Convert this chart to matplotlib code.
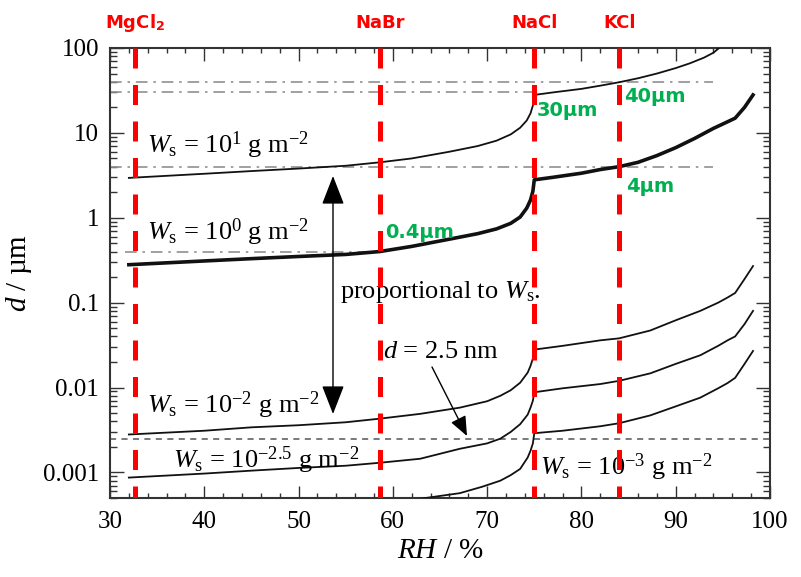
import matplotlib
matplotlib.use('Agg')
import matplotlib.pyplot as plt
from matplotlib.ticker import LogLocator, MultipleLocator, FixedLocator, FixedFormatter, NullFormatter

plt.rcParams['font.family'] = ['Liberation Serif', 'DejaVu Serif']
plt.rcParams['mathtext.fontset'] = 'custom'
plt.rcParams['mathtext.rm'] = 'Liberation Serif'
plt.rcParams['mathtext.it'] = 'Liberation Serif:italic'
plt.rcParams['mathtext.bf'] = 'DejaVu Sans:bold'

# ---------------- data ----------------
# W_s = 10^1 g m^-2
rh_w1 = [32, 40, 45, 50, 55, 58.6, 62, 66, 69, 71, 72.5, 73.5, 74.2, 74.6, 74.85, 75.0,
         77, 80, 82, 84, 86, 88, 90, 91.5, 93, 94, 94.6]
d_w1 = [2.95, 3.3, 3.55, 3.8, 4.1, 4.5, 5.0, 6.0, 7.0, 8.1, 9.6, 11.5, 14.0, 17.0, 21.0, 28,
        30, 33, 36, 39.5, 44, 50, 58, 66, 77, 88, 100]
# W_s = 10^0 g m^-2 (thick)
rh_w0 = [32, 40, 45, 50, 55, 58.6, 62, 66, 69, 71, 72.5, 73.5, 74.2, 74.6, 74.85, 75.0,
         77, 80, 82, 84, 86, 88, 90, 92, 94, 95.3, 96.3, 97.3, 98.2]
d_w0 = [0.28, 0.31, 0.33, 0.35, 0.37, 0.40, 0.46, 0.56, 0.65, 0.74, 0.86, 1.02, 1.3, 1.62, 2.05, 2.8,
        3.0, 3.35, 3.7, 4.0, 4.5, 5.4, 6.7, 8.6, 11.3, 13.2, 14.9, 20, 28]
# W_s = 10^-2 g m^-2
rh_w2 = [32, 40, 45, 50, 55, 58.6, 62.9, 67.1, 70, 71.4, 72.5, 73.5, 74.3, 74.6, 74.85, 75.0,
         78, 82, 84, 87.3, 90, 92.6, 94.5, 95.5, 96.3, 97.3, 98.2]
d_w2 = [0.0028, 0.0031, 0.0034, 0.0036, 0.0039, 0.0043, 0.0049, 0.0058, 0.0069, 0.0080, 0.0093, 0.0114, 0.015, 0.018, 0.022, 0.028,
        0.031, 0.036, 0.038, 0.047, 0.062, 0.080, 0.10, 0.115, 0.13, 0.19, 0.27]
# W_s = 10^-2.5 g m^-2
rh_w25 = [32, 40, 45, 50, 55, 58.6, 62.9, 67.1, 70, 71.4, 72.5, 73.5, 74.3, 74.6, 74.85, 75.0,
          78, 82, 84, 87.3, 90, 92.6, 94.5, 95.5, 96.3, 97.3, 98.2]
d_w25 = [0.00087, 0.00097, 0.00105, 0.00113, 0.0012, 0.0013, 0.00145, 0.0019, 0.0022, 0.0025, 0.0030, 0.0037, 0.0048, 0.0058, 0.0070, 0.0088,
         0.0098, 0.011, 0.012, 0.0147, 0.019, 0.024, 0.031, 0.036, 0.040, 0.056, 0.080]
# W_s = 10^-3 g m^-2
rh_w3 = [32, 45, 58.6, 62.9, 67.1, 69.5, 71.4, 72.5, 73.5, 74.3, 74.6, 74.85, 75.0,
         78, 82, 84, 87.3, 90, 92.6, 94.5, 95.5, 96.3, 97.3, 98.2]
d_w3 = [0.00028, 0.00034, 0.00043, 0.00049, 0.00057, 0.00068, 0.00080, 0.00093, 0.0011, 0.0015, 0.0018, 0.0022, 0.0029,
        0.0031, 0.0035, 0.0038, 0.0047, 0.0060, 0.0076, 0.0098, 0.0113, 0.013, 0.019, 0.027]

# deliquescence RH of salts
salt_names = ['MgCl', 'NaBr', 'NaCl', 'KCl']
salt_drh = [32.7, 58.6, 75.0, 84.0]

# reference thickness lines (µm) and their RH extents
ref_d = [40, 30, 4, 0.4]
ref_rh_start = [30, 30, 30, 31.6]
ref_rh_end = [94, 75, 94, 58.6]
ref_labels = ['40µm', '30µm', '4µm', '0.4µm']
d_monolayer = 0.0025  # 2.5 nm

xticks = [30, 40, 50, 60, 70, 80, 90, 100]
yticks = [0.001, 0.01, 0.1, 1, 10, 100]
ytick_labels = ['0.001', '0.01', '0.1', '1', '10', '100']

# ---------------- figure ----------------
fig = plt.figure(figsize=(8.01, 5.77), dpi=100)
ax = fig.add_axes([110 / 801, 1 - 498 / 577, 660 / 801, 450 / 577])
ax.set_yscale('log')
ax.set_xlim(30, 100)
ax.set_ylim(5e-4, 100)


def axf(px, py):
    return ((px - 110) / 660, (498 - py) / 450)


curve_col = '#111111'
ax.plot(rh_w1, d_w1, color=curve_col, lw=1.3, zorder=3)
ax.plot(rh_w0, d_w0, color=curve_col, lw=2.6, zorder=3)
ax.plot(rh_w2, d_w2, color=curve_col, lw=1.3, zorder=3)
ax.plot(rh_w25, d_w25, color=curve_col, lw=1.3, zorder=3)
ax.plot(rh_w3, d_w3, color=curve_col, lw=1.3, zorder=3)

# dash-dot reference lines
for v, xs, xe in zip(ref_d, ref_rh_start, ref_rh_end):
    ax.plot([xs, xe], [v, v], color='#909090', lw=1.2, dashes=(7, 3.5, 1.5, 3.5), zorder=2)

# 2.5 nm dashed line
ax.axhline(d_monolayer, color='#555555', lw=1.1, dashes=(4, 3.5), zorder=2)

# red DRH lines
ylo, yhi = ax.get_ylim()
for x in salt_drh:
    ax.plot([x, x], [yhi, ylo], color='#ff0000', lw=3.6, dashes=(4, 3.3), zorder=5,
            solid_capstyle='butt', dash_capstyle='butt')

# salt labels above plot
red_font = dict(family='DejaVu Sans', weight='bold', color='#ff0000', fontsize=13)
for name, x in zip(salt_names, salt_drh):
    label = name + r'$_{\mathbf{2}}$' if name == 'MgCl' else name
    ax.text(x, axf(0, 28)[1], label, transform=ax.get_xaxis_transform(),
            ha='center', va='baseline', clip_on=False, **red_font)

# green labels
green_font = dict(family='DejaVu Sans', weight='bold', color='#00b050', fontsize=14)
green_pos = [(624, 97), (537, 111), (626, 186), (385, 232)]
for lab, (px, py) in zip(ref_labels, green_pos):
    ax.text(*axf(px, py), lab, transform=ax.transAxes, ha='left', va='center', zorder=6, **green_font)

# annotations
tf = 19
ax.text(*axf(147, 153), r'$W_{\mathrm{s}}$ = 10$^{1}$ g m$^{-2}$', transform=ax.transAxes,
        fontsize=tf, va='baseline')
ax.text(*axf(147, 240), r'$W_{\mathrm{s}}$ = 10$^{0}$ g m$^{-2}$', transform=ax.transAxes,
        fontsize=tf, va='baseline')
ax.text(*axf(147, 413), r'$W_{\mathrm{s}}$ = 10$^{-2}$ g m$^{-2}$', transform=ax.transAxes,
        fontsize=tf, va='baseline')
ax.text(*axf(173, 468), r'$W_{\mathrm{s}}$ = 10$^{-2.5}$ g m$^{-2}$', transform=ax.transAxes,
        fontsize=tf, va='baseline')
ax.text(*axf(540, 475), r'$W_{\mathrm{s}}$ = 10$^{-3}$ g m$^{-2}$', transform=ax.transAxes,
        fontsize=tf, va='baseline')
ax.text(*axf(340, 298), r'proportional to $W_{\mathrm{s}}$.', transform=ax.transAxes,
        fontsize=tf, va='baseline')
ax.text(*axf(383, 358), r'$d$ = 2.5 nm', transform=ax.transAxes,
        fontsize=tf, va='baseline')

ax.annotate('', xy=axf(333, 176), xytext=axf(333, 414), xycoords='axes fraction',
            textcoords='axes fraction',
            arrowprops=dict(arrowstyle='<|-|>,head_length=0.9,head_width=0.35',
                            color='black', lw=1.0, mutation_scale=20, shrinkA=0, shrinkB=0))
ax.annotate('', xy=axf(467, 436), xytext=axf(432, 367), xycoords='axes fraction',
            textcoords='axes fraction',
            arrowprops=dict(arrowstyle='-|>,head_length=0.6,head_width=0.25',
                            color='black', lw=1.0, mutation_scale=20, shrinkA=0, shrinkB=0))

# axes styling
ax.xaxis.set_major_locator(FixedLocator(xticks))
ax.xaxis.set_minor_locator(MultipleLocator(2))
ax.yaxis.set_major_locator(FixedLocator(yticks))
ax.yaxis.set_major_formatter(FixedFormatter(ytick_labels))
ax.yaxis.set_minor_locator(LogLocator(base=10, subs=range(2, 10), numticks=50))
ax.yaxis.set_minor_formatter(NullFormatter())
ax.tick_params(which='both', direction='in', top=True, right=True, width=1.0, color='#333333')
ax.tick_params(axis='x', which='major', length=9, labelsize=18, pad=9)
ax.tick_params(axis='x', which='minor', length=3.5)
ax.tick_params(axis='y', which='major', length=10, labelsize=18, pad=8)
ax.tick_params(axis='y', which='minor', length=5)
for s in ax.spines.values():
    s.set_linewidth(1.5)
    s.set_color('#333333')

ax.set_xlabel(r'$RH$ / %', fontsize=21, labelpad=4)
ax.set_ylabel(r'$d$ / µm', fontsize=21, labelpad=6)

fig.savefig('out.png', dpi=100)
